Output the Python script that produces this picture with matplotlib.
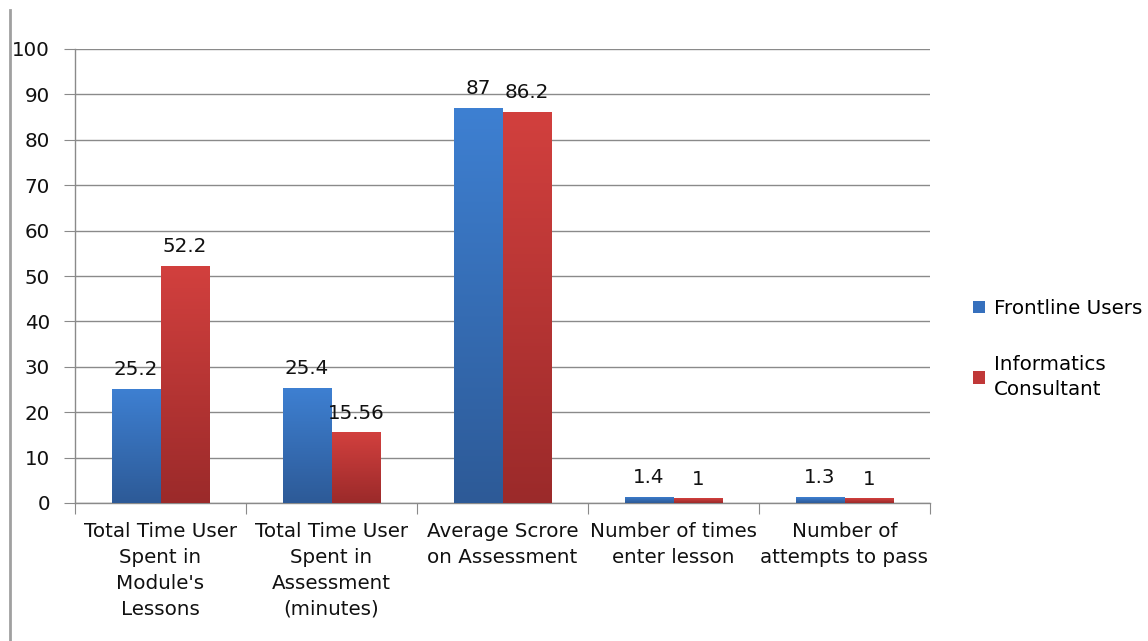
import numpy as np
import matplotlib
matplotlib.use("Agg")
import matplotlib.pyplot as plt
from matplotlib.colors import LinearSegmentedColormap
from matplotlib.lines import Line2D
from matplotlib.patches import Patch

categories = [
    "Total Time User\nSpent in\nModule's\nLessons",
    "Total Time User\nSpent in\nAssessment\n(minutes)",
    "Average Scrore\non Assessment",
    "Number of times\nenter lesson",
    "Number of\nattempts to pass",
]
frontline = [25.2, 25.4, 87, 1.4, 1.3]
informatics = [52.2, 15.56, 86.2, 1, 1]
frontline_labels = ["25.2", "25.4", "87", "1.4", "1.3"]
informatics_labels = ["52.2", "15.56", "86.2", "1", "1"]
series_names = ["Frontline Users", "Informatics\nConsultant"]

plt.rcParams["font.family"] = ["DejaVu Sans"]
FS = 14.3

fig = plt.figure(figsize=(11.48, 6.41), dpi=100)
ax = fig.add_axes([75 / 1148, 138 / 641, 855 / 1148, 454 / 641])

blue_cmap = LinearSegmentedColormap.from_list("b", ["#2d5a97", "#3e80d2"])
red_cmap = LinearSegmentedColormap.from_list("r", ["#9b2a2a", "#d2403e"])
grad = np.linspace(0, 1, 256).reshape(-1, 1)

x = np.arange(len(categories)) + 0.5
w = 0.2865

def gradient_bars(xs, vals, cmap):
    bars = ax.bar(xs, vals, width=w, color="none", edgecolor="none", zorder=3)
    for b in bars:
        x0, y0 = b.get_x(), b.get_y()
        im = ax.imshow(grad, extent=[x0, x0 + b.get_width(), y0, y0 + b.get_height()],
                       origin="lower", cmap=cmap, aspect="auto", zorder=3,
                       interpolation="bilinear")
        im.set_clip_path(b)
    return bars

bf = gradient_bars(x - w / 2, frontline, blue_cmap)
bi = gradient_bars(x + w / 2, informatics, red_cmap)

for xs, vals, labs in [(x - w / 2, frontline, frontline_labels),
                       (x + w / 2, informatics, informatics_labels)]:
    for xi, v, lab in zip(xs, vals, labs):
        ax.annotate(lab, (xi, v), xytext=(0, 7), textcoords="offset points",
                    ha="center", va="bottom", fontsize=FS, color="#111111", zorder=5)

ax.set_xlim(0, len(categories))
ax.set_ylim(0, 100)
ax.set_yticks(np.arange(0, 101, 10))
ax.yaxis.grid(True, color="#8a8a8a", linewidth=1.0, zorder=0)
ax.set_axisbelow(True)
ax.tick_params(axis="y", labelsize=FS, length=8, color="#8a8a8a", pad=10, labelcolor="#111111")

ax.set_xticks(np.arange(0, len(categories) + 1))
ax.set_xticklabels([])
ax.set_xticks(x, minor=True)
ax.set_xticklabels(categories, minor=True, fontsize=FS, color="#111111", linespacing=1.45)
ax.tick_params(axis="x", which="major", length=8, color="#8a8a8a")
ax.tick_params(axis="x", which="minor", length=0, pad=14)

for s in ["top", "right"]:
    ax.spines[s].set_visible(False)
for s in ["left", "bottom"]:
    ax.spines[s].set_color("#8a8a8a")
    ax.spines[s].set_linewidth(1.0)

handles = [Patch(facecolor="#3670bd", edgecolor="none"),
           Patch(facecolor="#c03838", edgecolor="none")]
leg = fig.legend(handles, series_names, loc="upper left",
                 bbox_to_anchor=(973 / 1148, 1 - 299 / 641),
                 frameon=False, fontsize=FS, handlelength=0.6, handleheight=0.6,
                 handletextpad=0.45, labelspacing=1.85, borderaxespad=0, borderpad=0)
for t in leg.get_texts():
    t.set_linespacing(1.45)

fig.add_artist(Line2D([10 / 1148, 10 / 1148], [0, 1 - 10 / 641], transform=fig.transFigure,
                      color="#a0a0a0", linewidth=2))

fig.savefig("out.png", dpi=100, facecolor="white")
